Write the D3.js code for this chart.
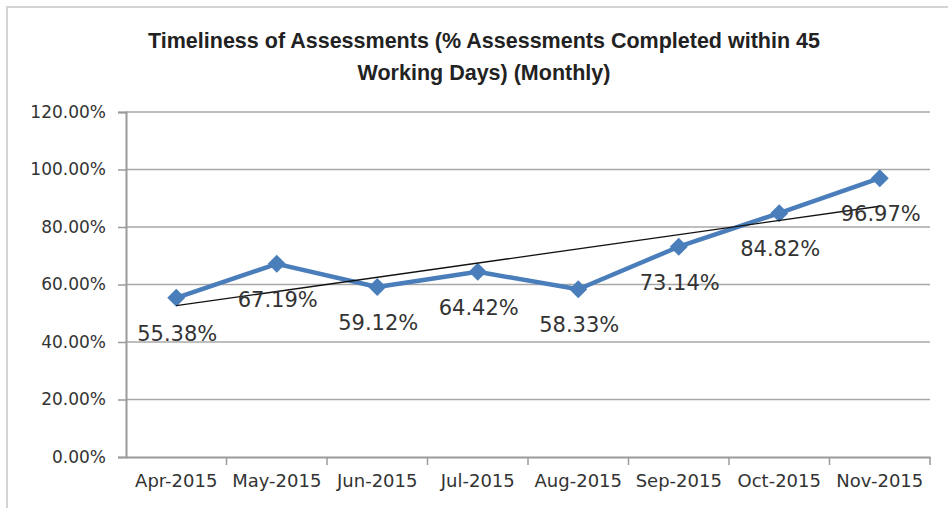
<!DOCTYPE html>
<html>
<head>
<meta charset="utf-8">
<script src="https://cdn.jsdelivr.net/npm/d3@7"></script>
<style>
  html, body { margin: 0; padding: 0; background: #fff; }
  svg { display: block; }
</style>
</head>
<body>
<div id="chart"></div>
<script>
// Monthly values
const months = ["Apr-2015", "May-2015", "Jun-2015", "Jul-2015", "Aug-2015", "Sep-2015", "Oct-2015", "Nov-2015"];
const pctCompleted = [55.38, 67.19, 59.12, 64.42, 58.33, 73.14, 84.82, 96.97];
const yTicks = [0, 20, 40, 60, 80, 100, 120];
const titleLines = [
    "Timeliness of Assessments (% Assessments Completed  within 45",
    "Working Days) (Monthly)"
];

const width = 948;
const height = 508;
const margin = {top: 112, right: 18, bottom: 51, left: 126};

const svg = d3.select("#chart")
    .append("svg")
    .attr("width", width)
    .attr("height", height);

// Chart frame (light gray, only top and left edges visible in the picture)
svg.append("path")
    .attr("d", `M7,${height} L7,7 L${width},7`)
    .attr("fill", "none")
    .attr("stroke", "#d4d4d4")
    .attr("stroke-width", 2);

// Title
svg.append("text")
    .attr("x", 484)
    .attr("y", 48)
    .attr("text-anchor", "middle")
    .attr("font-family", "'Liberation Sans Narrow', 'Liberation Sans', Arial, sans-serif")
    .attr("font-size", "21.5px")
    .attr("font-weight", "bold")
    .attr("fill", "#222")
    .selectAll("tspan")
    .data(titleLines)
    .enter()
    .append("tspan")
    .attr("x", 484)
    .attr("dy", (d, i) => i === 0 ? 0 : 32)
    .text(d => d);

const x = d3.scaleBand()
    .domain(months)
    .range([margin.left, width - margin.right]);

const y = d3.scaleLinear()
    .domain([0, 120])
    .range([height - margin.bottom, margin.top]);

// Gridlines
svg.append("g")
    .selectAll("line")
    .data(yTicks.filter(t => t > 0))
    .enter()
    .append("line")
    .attr("x1", margin.left)
    .attr("x2", width - margin.right)
    .attr("y1", d => y(d))
    .attr("y2", d => y(d))
    .attr("stroke", "#a8a8a8")
    .attr("stroke-width", 1.5);

// Y axis
const yAxis = svg.append("g")
    .attr("transform", `translate(${margin.left},0)`)
    .call(d3.axisLeft(y).tickValues(yTicks).tickSize(8).tickPadding(12)
        .tickFormat(d => d.toFixed(2) + "%"));
yAxis.select(".domain").attr("stroke", "#9a9a9a").attr("stroke-width", 2);
yAxis.selectAll(".tick line").attr("stroke", "#9a9a9a").attr("stroke-width", 1.5);
yAxis.selectAll(".tick text")
    .attr("font-family", "'DejaVu Sans', Verdana, sans-serif")
    .attr("font-size", "17px")
    .attr("fill", "#333");

// X axis
const xAxis = svg.append("g")
    .attr("transform", `translate(0,${height - margin.bottom})`)
    .call(d3.axisBottom(x).tickSize(0).tickPadding(17));
xAxis.select(".domain").attr("stroke", "#9a9a9a").attr("stroke-width", 2);
xAxis.selectAll(".tick text")
    .attr("font-family", "'DejaVu Sans', Verdana, sans-serif")
    .attr("font-size", "18px")
    .attr("fill", "#333");

// Category boundary ticks
svg.append("g")
    .selectAll("line")
    .data(months)
    .enter()
    .append("line")
    .attr("x1", d => x(d) + x.bandwidth())
    .attr("x2", d => x(d) + x.bandwidth())
    .attr("y1", height - margin.bottom)
    .attr("y2", height - margin.bottom + 8)
    .attr("stroke", "#9a9a9a")
    .attr("stroke-width", 1.5);

const cx = d => x(d) + x.bandwidth() / 2;

// Series line
const line = d3.line()
    .x((d, i) => cx(months[i]))
    .y(d => y(d));

svg.append("path")
    .datum(pctCompleted)
    .attr("d", line)
    .attr("fill", "none")
    .attr("stroke", "#4a7ebb")
    .attr("stroke-width", 4.5)
    .attr("stroke-linejoin", "round");

// Diamond markers
svg.append("g")
    .selectAll("path")
    .data(pctCompleted)
    .enter()
    .append("path")
    .attr("transform", (d, i) => `translate(${cx(months[i])},${y(d)})`)
    .attr("d", "M0,-9L9,0L0,9L-9,0Z")
    .attr("fill", "#4a7ebb");

// Linear trendline (least squares over month index)
const n = pctCompleted.length;
const mx = d3.mean(pctCompleted, (d, i) => i);
const my = d3.mean(pctCompleted);
const slope = d3.sum(pctCompleted, (d, i) => (i - mx) * (d - my)) /
    d3.sum(pctCompleted, (d, i) => (i - mx) * (i - mx));
const intercept = my - slope * mx;

svg.append("line")
    .attr("x1", cx(months[0]))
    .attr("y1", y(intercept))
    .attr("x2", cx(months[n - 1]))
    .attr("y2", y(intercept + slope * (n - 1)))
    .attr("stroke", "#111")
    .attr("stroke-width", 1.3);

// Data labels
svg.append("g")
    .selectAll("text")
    .data(pctCompleted)
    .enter()
    .append("text")
    .attr("x", (d, i) => cx(months[i]) + 1)
    .attr("y", d => y(d) + 43)
    .attr("text-anchor", "middle")
    .attr("font-family", "'DejaVu Sans', Verdana, sans-serif")
    .attr("font-size", "21px")
    .attr("fill", "#333")
    .text(d => d.toFixed(2) + "%");
</script>
</body>
</html>
